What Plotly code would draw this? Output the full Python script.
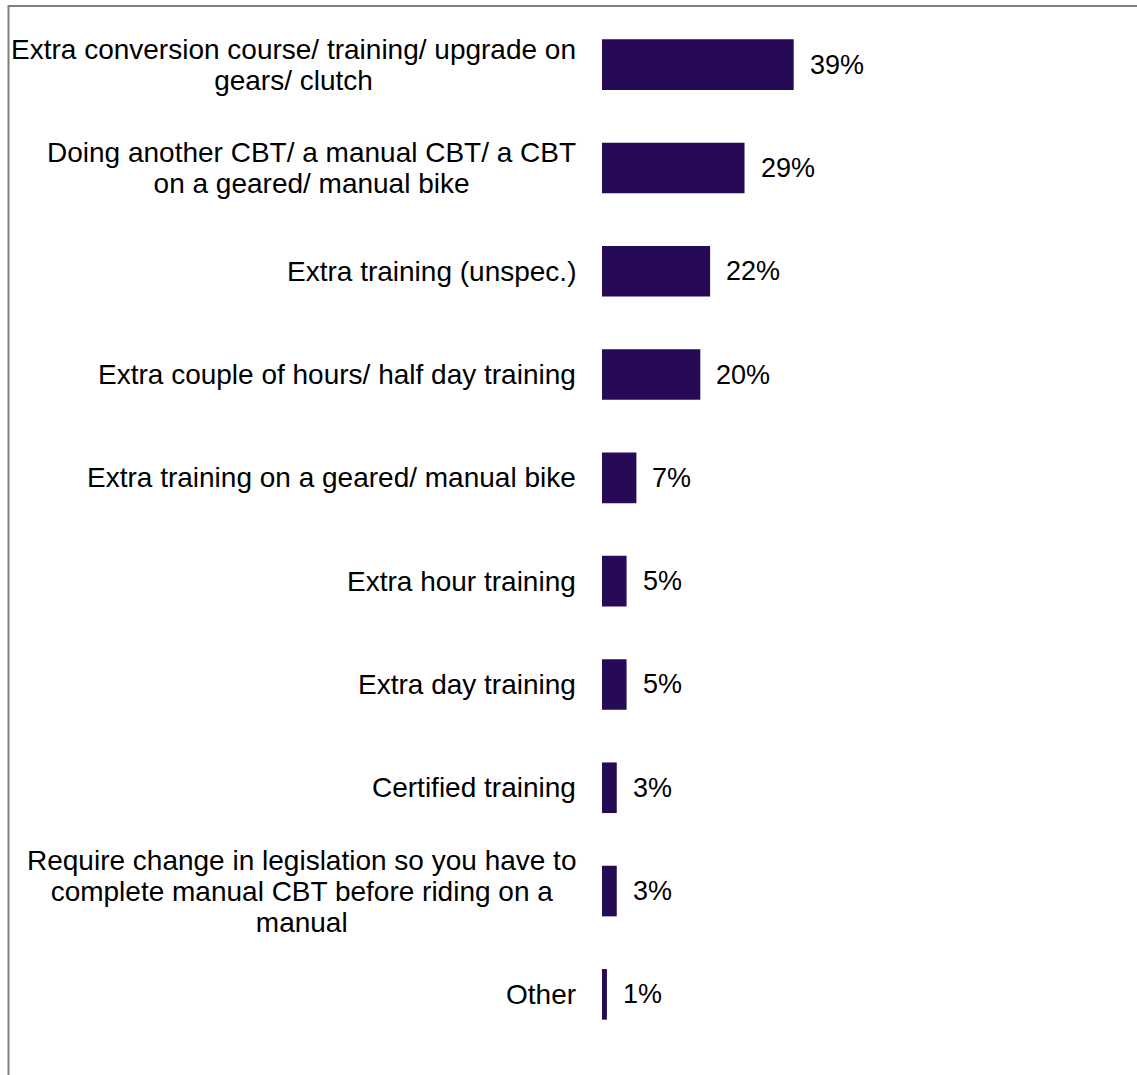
import plotly.graph_objects as go

categories = [
    "Extra conversion course/ training/ upgrade on<br>gears/ clutch",
    "Doing another CBT/ a manual CBT/ a CBT<br>on a geared/ manual bike",
    "Extra training (unspec.)",
    "Extra couple of hours/ half day training",
    "Extra training on a geared/ manual bike",
    "Extra hour training",
    "Extra day training",
    "Certified training",
    "Require change in legislation so you have to<br>complete manual CBT before riding on a<br>manual",
    "Other",
]
values = [39, 29, 22, 20, 7, 5, 5, 3, 3, 1]

W, H = 1137, 1075
ML, MR, MT, MB = 602, 0, 13, 29
BAR_COLOR = "#260A56"
FONT = "Liberation Sans, Arial, sans-serif"
FS_LABEL = 28
FS_VALUE = 27
FS_BASE = 24  # controls line spacing of multi-line labels (1.3 * base)

ids = list(range(len(categories)))

fig = go.Figure(go.Bar(
    x=values, y=ids, orientation="h",
    marker=dict(color=BAR_COLOR, line=dict(width=0)),
    hoverinfo="skip",
))


def sized(text, size):
    return "<br>".join(
        f'<span style="font-size:{size}px">{part}</span>' for part in text.split("<br>")
    )


annotations = []
for i, (c, v) in enumerate(zip(categories, values)):
    annotations.append(dict(
        x=0, y=i, xref="x", yref="y", text=sized(c, FS_LABEL), showarrow=False,
        xanchor="right", yanchor="middle", align="center", xshift=-24,
        font=dict(family=FONT, size=FS_BASE, color="#000000"),
    ))
    annotations.append(dict(
        x=v, y=i, xref="x", yref="y", text=f"{v}%", showarrow=False,
        xanchor="left", yanchor="middle", xshift=14,
        font=dict(family=FONT, size=FS_VALUE, color="#000000"),
    ))

pw = W - ML - MR
ph = H - MT - MB
fig.update_layout(
    width=W, height=H,
    margin=dict(l=ML, r=MR, t=MT, b=MB, pad=0),
    paper_bgcolor="white", plot_bgcolor="white",
    showlegend=False,
    bargap=0.51,
    xaxis=dict(range=[0, pw / 4.915], visible=False, fixedrange=True),
    yaxis=dict(range=[len(categories) - 0.5, -0.5], visible=False, fixedrange=True),
    annotations=annotations,
    shapes=[dict(
        type="rect", xref="paper", yref="paper",
        x0=(8.5 - ML) / pw, x1=(W + 20 - ML) / pw,
        y0=(H - MB - (H + 20)) / ph, y1=(H - MB - 6) / ph,
        line=dict(color="#808080", width=2), fillcolor="rgba(0,0,0,0)", layer="above",
    )],
)

fig.write_html(
    "out.html",
    config={"displayModeBar": False},
    post_script="document.body.style.margin='0';",
)
